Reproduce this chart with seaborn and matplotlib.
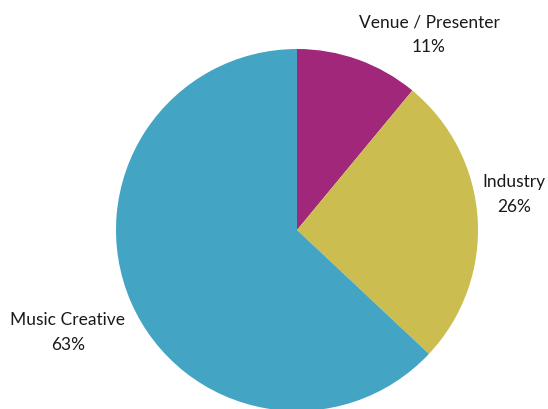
import matplotlib
matplotlib.use("Agg")
import matplotlib.pyplot as plt
import seaborn as sns

categories = ["Venue / Presenter", "Industry", "Music Creative"]
shares = [11, 26, 63]
colors = ["#A0277A", "#CBBD4F", "#43A5C3"]

sns.set_theme(style="white")
plt.rcParams["font.family"] = ["Lato", "DejaVu Sans"]

W, H = 548, 409
fig = plt.figure(figsize=(W / 100, H / 100), dpi=100)
ax = fig.add_axes([0, 0, 1, 1])
ax.set_xlim(0, W)
ax.set_ylim(H, 0)
ax.set_aspect("equal")
ax.axis("off")

cx, cy, r = 297, 230, 181
# y axis is inverted, so counterclock=True draws clockwise on screen
ax.pie(shares, colors=colors, startangle=-90, counterclock=True,
       center=(cx, cy), radius=r, frame=True,
       wedgeprops=dict(linewidth=0))
ax.set_xlim(0, W)
ax.set_ylim(H, 0)
ax.axis("off")

label_pos = {"Venue / Presenter": (429, 22), "Industry": (514, 182), "Music Creative": (68, 320)}
for cat, val in zip(categories, shares):
    x, y = label_pos[cat]
    ax.text(x, y, cat, ha="center", va="center", fontsize=12.5, color="#1a1a1a")
    ax.text(x, y + 25, f"{val}%", ha="center", va="center", fontsize=12.5, color="#1a1a1a")

fig.savefig("out.png", dpi=100)
